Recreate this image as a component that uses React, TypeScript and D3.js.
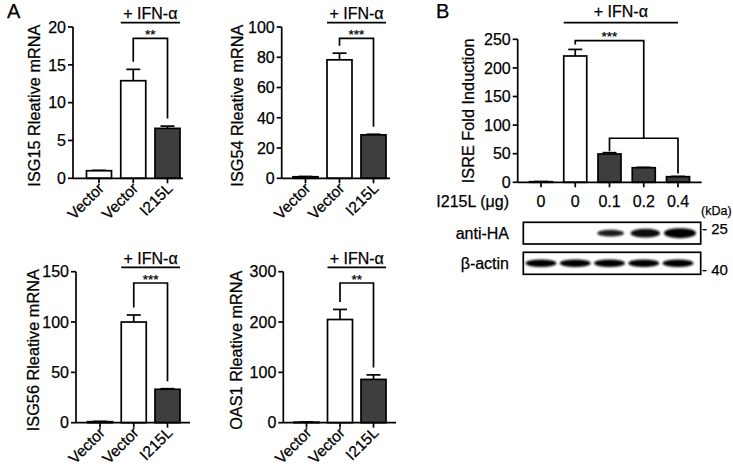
import React from "react";
import * as d3 from "d3";

const FONT = "'Liberation Sans', Arial, Helvetica, sans-serif";
const DARK = "#3e3e3e";
const TXT = { stroke: "#000", strokeWidth: 0.25 };

// ---------- Panel A data ----------
const categoriesA = ["Vector", "Vector", "I215L"];
const mutantA = [false, false, true];

const isg15Values = [1.0, 12.9, 6.6];
const isg15Errors = [0.05, 1.5, 0.3];
const isg15Ticks = [0, 5, 10, 15, 20];

const isg54Values = [1.0, 78.3, 28.7];
const isg54Errors = [0.2, 4.4, 0.4];
const isg54Ticks = [0, 20, 40, 60, 80, 100];

const isg56Values = [1.0, 100, 33.2];
const isg56Errors = [0.3, 7, 0.6];
const isg56Ticks = [0, 50, 100, 150];

const oas1Values = [1.0, 205, 86];
const oas1Errors = [0.5, 20, 9];
const oas1Ticks = [0, 100, 200, 300];

// ---------- Panel B data ----------
const categoriesB = ["0", "0", "0.1", "0.2", "0.4"];
const mutantB = [false, false, true, true, true];
const isreValues = [1.0, 220.8, 49.5, 25.5, 9.8];
const isreErrors = [0.3, 11.5, 2.3, 0.6, 0.5];
const isreTicks = [0, 50, 100, 150, 200, 250];
const isreGroupLevel = 77;
const haBandIntensity = [0, 0, 0.55, 0.8, 1];
const actinBandIntensity = [1, 1, 1, 1, 1];

type PanelProps = {
  label: string;
  values: number[];
  errors: number[];
  ticks: number[];
  sig: string;
  axisX: number;
  yBottom: number;
  yTop: number;
  c0: number;
  c1: number;
  xEnd: number;
  labelX: number;
};

function PanelA(p: PanelProps) {
  const y = d3.scaleLinear().domain([0, p.ticks[p.ticks.length - 1]]).range([p.yBottom, p.yTop]);
  const x = d3.scalePoint<number>().domain(d3.range(categoriesA.length)).range([p.c0, p.c1]);
  const bw = 25;
  const cap = 7;
  const bTop = p.yTop + 11.3;
  const xl = x(1)!;
  const xr = x(2)!;
  const legL = y(p.values[1] + p.errors[1]) - 7.5;
  const legR = y(p.values[2] + p.errors[2]) - 7.5;
  const ifnL = x(1)! - bw / 2;
  const ifnR = x(2)! + bw / 2;
  return (
    <g fontFamily={FONT}>
      {p.values.map((v, i) => (
        <g key={i}>
          <line x1={x(i)!} x2={x(i)!} y1={y(v)} y2={y(v + p.errors[i])} stroke="#000" strokeWidth={1.7} />
          <line x1={x(i)! - cap} x2={x(i)! + cap} y1={y(v + p.errors[i])} y2={y(v + p.errors[i])} stroke="#000" strokeWidth={1.7} />
          <rect x={x(i)! - bw / 2} y={y(v)} width={bw} height={p.yBottom - y(v)} fill={mutantA[i] ? DARK : "#fff"} stroke="#000" strokeWidth={1.7} />
        </g>
      ))}
      <line x1={p.axisX} x2={p.axisX} y1={p.yTop} y2={p.yBottom} stroke="#000" strokeWidth={1.7} />
      <line x1={p.axisX} x2={p.xEnd} y1={p.yBottom} y2={p.yBottom} stroke="#000" strokeWidth={1.7} />
      {p.ticks.map((t) => (
        <g key={t}>
          <line x1={p.axisX - 5} x2={p.axisX} y1={y(t)} y2={y(t)} stroke="#000" strokeWidth={1.7} />
          <text x={p.axisX - 7} y={y(t)} dy="0.36em" textAnchor="end" fontSize={16} {...TXT}>{t}</text>
        </g>
      ))}
      {categoriesA.map((c, i) => (
        <g key={i}>
          <line x1={x(i)!} x2={x(i)!} y1={p.yBottom} y2={p.yBottom + 5} stroke="#000" strokeWidth={1.7} />
          <text transform={`translate(${x(i)! + 6},${p.yBottom + 11}) rotate(-45)`} textAnchor="end" fontSize={15.5} {...TXT}>{c}</text>
        </g>
      ))}
      <text transform={`translate(${p.labelX},${(p.yTop + p.yBottom) / 2 + 3}) rotate(-90)`} textAnchor="middle" fontSize={16.3} {...TXT}>{p.label}</text>
      {/* significance bracket */}
      <path d={`M${xl},${legL}V${bTop}H${xr}V${legR}`} fill="none" stroke="#000" strokeWidth={1.7} />
      <text x={(xl + xr) / 2} y={bTop + 0.5} textAnchor="middle" fontSize={13.5} {...TXT}>{p.sig}</text>
      {/* IFN bar */}
      <line x1={ifnL} x2={ifnR} y1={p.yTop - 4.3} y2={p.yTop - 4.3} stroke="#000" strokeWidth={1.7} />
      <text x={(ifnL + ifnR) / 2} y={p.yTop - 8} textAnchor="middle" fontSize={16} {...TXT}>+ IFN-α</text>
    </g>
  );
}

function PanelB() {
  const axisX = 517.7;
  const yBottom = 182.3;
  const yTop = 39.3;
  const y = d3.scaleLinear().domain([0, 250]).range([yBottom, yTop]);
  const x = d3.scalePoint<number>().domain(d3.range(categoriesB.length)).range([541, 678]);
  const bw = 23;
  const cap = 7;
  const topY = yTop + 1.4;
  const lowY = y(isreGroupLevel);
  const legTop = y(isreValues[1] + isreErrors[1]) - 5;
  const leg2 = y(isreValues[2] + isreErrors[2]) - 1.5;
  const leg4 = y(isreValues[4] + isreErrors[4]) - 3;
  const blotX0 = 523.3;
  const blotX1 = 700.7;
  const blots = [
    { name: "anti-HA", y0: 222.3, y1: 244, intens: haBandIntensity, kda: "25", kdaY: 228.5 },
    { name: "β-actin", y0: 252.3, y1: 274.3, intens: actinBandIntensity, kda: "40", kdaY: 269.5 },
  ];
  return (
    <g fontFamily={FONT}>
      <defs>
        <filter id="blur" x="-30%" y="-100%" width="160%" height="300%">
          <feGaussianBlur stdDeviation="1.3" />
        </filter>
      </defs>
      {isreValues.map((v, i) => (
        <g key={i}>
          <line x1={x(i)!} x2={x(i)!} y1={y(v)} y2={y(v + isreErrors[i])} stroke="#000" strokeWidth={1.7} />
          <line x1={x(i)! - cap} x2={x(i)! + cap} y1={y(v + isreErrors[i])} y2={y(v + isreErrors[i])} stroke="#000" strokeWidth={1.7} />
          <rect x={x(i)! - bw / 2} y={y(v)} width={bw} height={yBottom - y(v)} fill={mutantB[i] ? DARK : "#fff"} stroke="#000" strokeWidth={1.7} />
        </g>
      ))}
      <line x1={axisX} x2={axisX} y1={yTop} y2={yBottom} stroke="#000" strokeWidth={1.7} />
      <line x1={axisX} x2={701.7} y1={yBottom} y2={yBottom} stroke="#000" strokeWidth={1.7} />
      {isreTicks.map((t) => (
        <g key={t}>
          <line x1={axisX - 5} x2={axisX} y1={y(t)} y2={y(t)} stroke="#000" strokeWidth={1.7} />
          <text x={axisX - 7} y={y(t)} dy="0.36em" textAnchor="end" fontSize={16} {...TXT}>{t}</text>
        </g>
      ))}
      {categoriesB.map((c, i) => (
        <g key={i}>
          <line x1={x(i)!} x2={x(i)!} y1={yBottom} y2={yBottom + 5} stroke="#000" strokeWidth={1.7} />
          <text x={x(i)!} y={207} textAnchor="middle" fontSize={16} {...TXT}>{c}</text>
        </g>
      ))}
      <text x={509} y={207} textAnchor="end" fontSize={16} {...TXT}>I215L (μg)</text>
      <text transform={`translate(474,${(yTop + yBottom) / 2}) rotate(-90)`} textAnchor="middle" fontSize={16.3} {...TXT}>ISRE Fold Induction</text>
      {/* brackets */}
      <path d={`M${x(1)!},${legTop}V${topY}H${x(3)!}V${lowY}`} fill="none" stroke="#000" strokeWidth={1.7} />
      <path d={`M${x(2)!},${leg2}V${lowY}H${x(4)!}V${leg4}`} fill="none" stroke="#000" strokeWidth={1.7} />
      <text x={(x(1)! + x(3)!) / 2} y={topY + 0.5} textAnchor="middle" fontSize={13.5} {...TXT}>***</text>
      <line x1={x(1)! - bw / 2} x2={x(4)!} y1={22.7} y2={22.7} stroke="#000" strokeWidth={1.7} />
      <text x={(x(1)! - bw / 2 + x(4)!) / 2} y={16.7} textAnchor="middle" fontSize={16} {...TXT}>+ IFN-α</text>
      {/* western blots */}
      <text x={701} y={215} fontSize={12.5} {...TXT}>(kDa)</text>
      {blots.map((b) => (
        <g key={b.name}>
          <text x={509} y={(b.y0 + b.y1) / 2} dy="0.36em" textAnchor="end" fontSize={16} {...TXT}>{b.name}</text>
          <rect x={blotX0} y={b.y0} width={blotX1 - blotX0} height={b.y1 - b.y0} fill="#fff" />
          {b.intens.map((s, i) =>
            s > 0 ? (
              <ellipse
                key={i}
                cx={x(i)! + (b.name === "anti-HA" ? 2 * s : 0)}
                cy={(b.y0 + b.y1) / 2}
                rx={b.name === "anti-HA" ? 10 + 6 * s : 15.5}
                ry={b.name === "anti-HA" ? 1.5 + 3.5 * s : 3.8}
                fill="#000"
                opacity={b.name === "anti-HA" ? 0.75 + 0.25 * s : 1}
                filter="url(#blur)"
              />
            ) : null
          )}
          <rect x={blotX0} y={b.y0} width={blotX1 - blotX0} height={b.y1 - b.y0} fill="none" stroke="#000" strokeWidth={1.7} />
          <text x={702} y={b.kdaY} dy="0.36em" fontSize={15} {...TXT}>{`- ${b.kda}`}</text>
        </g>
      ))}
    </g>
  );
}

export default function App() {
  return (
    <svg width={733} height={469} viewBox="0 0 733 469" style={{ display: "block", position: "absolute", left: 0, top: 0, background: "#fff" }}>
      <rect width={733} height={469} fill="#fff" />
      <text x={7} y={18} fontFamily={FONT} fontSize={20} {...TXT}>A</text>
      <text x={436} y={18} fontFamily={FONT} fontSize={20} {...TXT}>B</text>
      <PanelA label="ISG15 Rleative mRNA" values={isg15Values} errors={isg15Errors} ticks={isg15Ticks} sig="**"
        axisX={73} yBottom={178.3} yTop={27} c0={99} c1={167.5} xEnd={183} labelX={40} />
      <PanelA label="ISG54 Rleative mRNA" values={isg54Values} errors={isg54Errors} ticks={isg54Ticks} sig="***"
        axisX={281.7} yBottom={178.3} yTop={27} c0={305.5} c1={373.5} xEnd={390} labelX={243} />
      <PanelA label="ISG56 Rleative mRNA" values={isg56Values} errors={isg56Errors} ticks={isg56Ticks} sig="***"
        axisX={76} yBottom={422.7} yTop={271.7} c0={100} c1={167.5} xEnd={190} labelX={38.5} />
      <PanelA label="OAS1 Rleative mRNA" values={oas1Values} errors={oas1Errors} ticks={oas1Ticks} sig="**"
        axisX={283.3} yBottom={422.7} yTop={271.7} c0={306.5} c1={373.5} xEnd={396} labelX={242} />
      <PanelB />
    </svg>
  );
}
